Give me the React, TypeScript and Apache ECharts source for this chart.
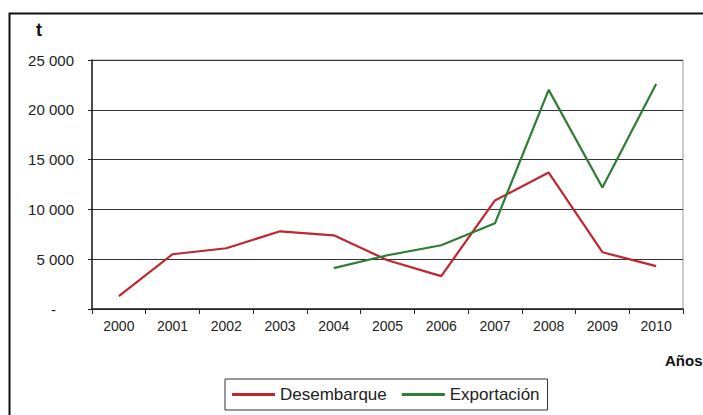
import React, { useEffect, useRef } from "react";
import * as echarts from "echarts";

// Years on the category axis
const years = ["2000", "2001", "2002", "2003", "2004", "2005", "2006", "2007", "2008", "2009", "2010"];

// Tonnes landed per year
const desembarque = [1300, 5500, 6100, 7800, 7400, 4900, 3300, 10900, 13700, 5700, 4300];

// Tonnes exported per year (no data before 2004)
const exportacion = [null, null, null, null, 4100, 5400, 6400, 8600, 22000, 12200, 22600];

const yTicks = { min: 0, max: 25000, step: 5000 };

const FONT = "'Liberation Sans', Arial, sans-serif";
const RED = "#c0262e";
const GREEN = "#2e7d32";

// Accounting-style labels: thin space as thousands separator, a dash for zero
function formatTonnes(v: number): string {
  if (v === 0) return "{zero|-}";
  return String(v).replace(/\B(?=(\d{3})+(?!\d))/g, " ");
}

export default function App() {
  const ref = useRef<HTMLDivElement>(null);

  useEffect(() => {
    if (!ref.current) return;
    const chart = echarts.init(ref.current, null, { renderer: "svg" });
    chart.setOption({
      animation: false,
      backgroundColor: "#ffffff",
      textStyle: { fontFamily: FONT },
      grid: {
        left: 92,
        right: 20,
        top: 60,
        bottom: 106,
        show: true,
        borderColor: "#9a9a9a",
        borderWidth: 1,
      },
      xAxis: {
        type: "category",
        data: years,
        boundaryGap: true,
        axisLine: { lineStyle: { color: "#222", width: 1.5 } },
        axisTick: { show: true, alignWithLabel: false, length: 5, lineStyle: { color: "#222" } },
        axisLabel: { color: "#222", fontSize: 14, margin: 10, fontFamily: FONT },
        splitLine: { show: false },
      },
      yAxis: {
        type: "value",
        min: yTicks.min,
        max: yTicks.max,
        interval: yTicks.step,
        axisLine: { show: true, lineStyle: { color: "#222", width: 1.5 } },
        axisTick: { show: true, length: 4, lineStyle: { color: "#222" } },
        axisLabel: {
          color: "#222",
          fontSize: 15,
          margin: 18,
          fontFamily: FONT,
          formatter: (v: number) => formatTonnes(v),
          rich: {
            zero: { fontSize: 15, color: "#222", padding: [0, 18, 0, 0], fontFamily: FONT },
          },
        },
        splitLine: { show: true, lineStyle: { color: "#333", width: 1.2 } },
      },
      legend: {
        left: 225,
        top: 379,
        padding: [7, 8, 7, 7],
        itemGap: 15,
        itemWidth: 43,
        itemHeight: 3,
        borderColor: "#333",
        borderWidth: 1,
        textStyle: { color: "#222", fontSize: 17, fontFamily: FONT },
        data: [
          { name: "Desembarque", icon: "rect", itemStyle: { color: RED } },
          { name: "Exportación", icon: "rect", itemStyle: { color: GREEN } },
        ],
      },
      series: [
        {
          name: "Desembarque",
          type: "line",
          data: desembarque,
          symbol: "none",
          lineStyle: { color: RED, width: 2.2 },
          itemStyle: { color: RED },
        },
        {
          name: "Exportación",
          type: "line",
          data: exportacion,
          symbol: "none",
          lineStyle: { color: GREEN, width: 2.2 },
          itemStyle: { color: GREEN },
        },
      ],
      graphic: [
        {
          type: "rect",
          shape: { x: 9.5, y: 13.5, width: 900, height: 600 },
          style: { fill: "none", stroke: "#111", lineWidth: 2 },
          silent: true,
        },
        {
          type: "text",
          x: 36,
          y: 21,
          style: { text: "t", fontSize: 18, fontWeight: "bold", fill: "#111", fontFamily: FONT },
        },
        {
          type: "text",
          x: 665,
          y: 353,
          style: { text: "Años", fontSize: 15, fontWeight: "bold", fill: "#111", fontFamily: FONT },
        },
      ],
    });
    return () => chart.dispose();
  }, []);

  return (
    <div
      ref={ref}
      style={{ position: "fixed", left: 0, top: 0, width: 703, height: 415 }}
    />
  );
}
